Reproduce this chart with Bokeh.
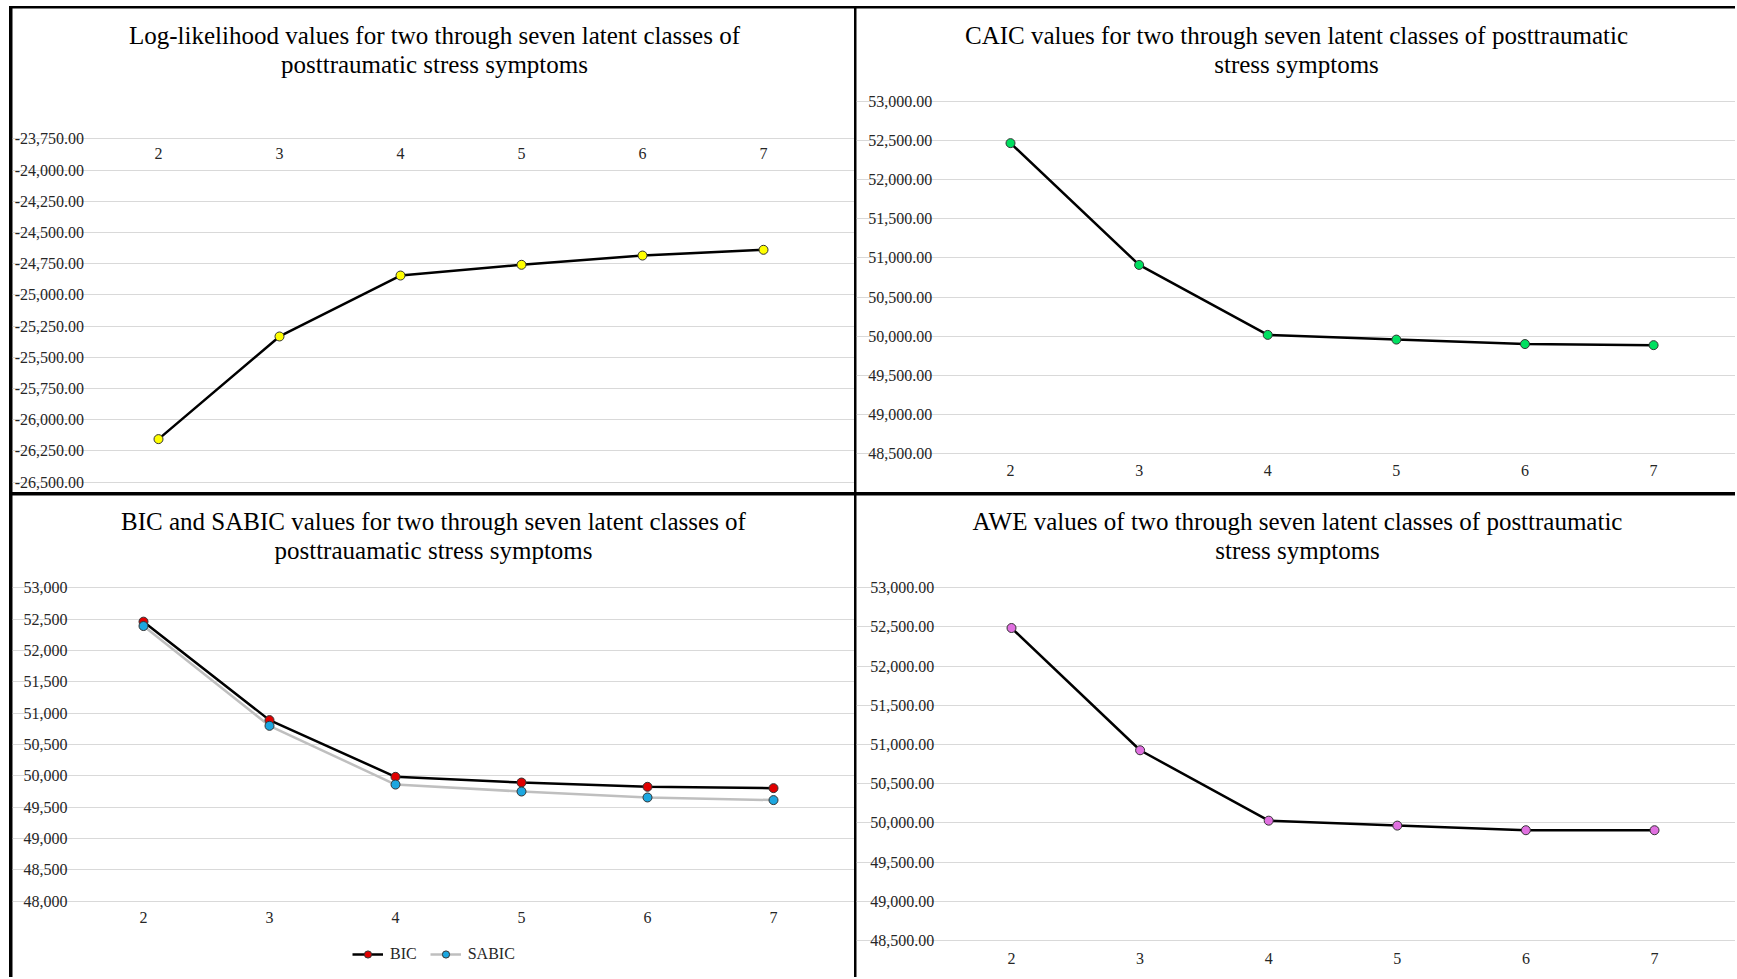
from bokeh.plotting import figure
from bokeh.layouts import row, column
from bokeh.models import (Range1d, FixedTicker, NumeralTickFormatter,
                          Label, Legend, LegendItem)
from bokeh.embed import file_html
from bokeh.resources import INLINE

# ---------------- data ----------------
classes = [2, 3, 4, 5, 6, 7]
loglik = [-26155, -25333, -24845, -24759, -24685, -24639]
caic = [52466, 50911, 50018, 49958, 49901, 49887]
bic = [52460, 50889, 49984, 49893, 49825, 49804]
sabic = [52390, 50798, 49861, 49750, 49655, 49613]
awe = [52487, 50927, 50029, 49966, 49907, 49907]

ll_ticks = [-26500, -26250, -26000, -25750, -25500, -25250, -25000,
            -24750, -24500, -24250, -24000, -23750]
caic_ticks = [48500, 49000, 49500, 50000, 50500, 51000, 51500, 52000, 52500, 53000]
bic_ticks = [48000, 48500, 49000, 49500, 50000, 50500, 51000, 51500, 52000, 52500, 53000]
awe_ticks = [48500, 49000, 49500, 50000, 50500, 51000, 51500, 52000, 52500, 53000]

title_ll = ["Log-likelihood values for two through seven latent classes of",
            "posttraumatic stress symptoms"]
title_caic = ["CAIC values for two through seven latent classes of posttraumatic",
              "stress symptoms"]
title_bic = ["BIC and SABIC values for two through seven latent classes of",
             "posttrauamatic stress symptoms"]
title_awe = ["AWE values of two through seven latent classes of posttraumatic",
             "stress symptoms"]

FONT = "Liberation Serif"
TICK_COLOR = "#262626"
GRID = "#D9D9D9"


def panel(w, h, box, ticks, fmt, xaxis_at, ystd, xstd):
    """box = (left, right, top, bottom) pixel edges of the plot area inside the canvas"""
    left, right, top, bottom = box
    xlo, xhi = classes[0] - 0.5, classes[-1] + 0.5
    ylo, yhi = ticks[0], ticks[-1]
    xppu = (right - left) / (xhi - xlo)
    yppu = (bottom - top) / (yhi - ylo)
    xr = Range1d(xlo - left / xppu, xhi + (w - right) / xppu)
    yr = Range1d(ylo - (h - bottom) / yppu, yhi + top / yppu)
    p = figure(width=w, height=h, x_range=xr, y_range=yr,
               output_backend="svg", toolbar_location=None, min_border=0)
    p.outline_line_color = None
    p.background_fill_color = "white"
    p.border_fill_color = "white"
    p.xgrid.visible = False
    p.ygrid.ticker = FixedTicker(ticks=ticks)
    p.ygrid.bounds = (xlo, xhi)
    p.ygrid.grid_line_color = GRID
    p.ygrid.grid_line_width = 1
    p.yaxis.ticker = FixedTicker(ticks=ticks)
    p.yaxis.formatter = NumeralTickFormatter(format=fmt)
    p.xaxis.ticker = FixedTicker(ticks=classes)
    p.yaxis.fixed_location = xlo
    p.xaxis.fixed_location = xaxis_at
    for ax in (p.xaxis[0], p.yaxis[0]):
        ax.axis_line_color = None
        ax.major_tick_line_color = None
        ax.minor_tick_line_color = None
        ax.major_tick_out = 0
        ax.major_tick_in = 0
        ax.major_label_text_font = FONT
        ax.major_label_text_font_size = "16px"
        ax.major_label_text_color = TICK_COLOR
    p.yaxis.major_label_standoff = ystd
    p.xaxis.major_label_standoff = xstd
    return p


def add_title(p, lines, cx, h, b1, b2):
    for t, b in zip(lines, (b1, b2)):
        p.add_layout(Label(x=cx, y=h - b, x_units="screen", y_units="screen", text=t,
                           text_align="center", text_baseline="alphabetic",
                           text_font=FONT, text_font_size="25px", text_color="black"))


W1, W2, H1, H2 = 842, 879, 484, 482

# ---- panel 1: log-likelihood ----
p1 = panel(W1, H1, (85.5, 811.5, 130.3, 473.7), ll_ticks, "0,0.00", ll_ticks[-1], 14, 9)
p1.line(classes, loglik, line_color="black", line_width=2.5)
p1.scatter(classes, loglik, size=9, fill_color="#FFFF00", line_color="#333333", line_width=1)
add_title(p1, title_ll, 422, H1, 27, 56)

# ---- panel 2: CAIC ----
p2 = panel(W2, H1, (89.7, 861.4, 92.8, 445.3), caic_ticks, "0,0.00", caic_ticks[0], 14, 11)
p2.line(classes, caic, line_color="black", line_width=2.5)
p2.scatter(classes, caic, size=9, fill_color="#00E060", line_color="#333333", line_width=1)
add_title(p2, title_caic, 440, H1, 27, 56)

# ---- panel 3: BIC & SABIC ----
p3 = panel(W1, H2, (68, 824, 92.3, 405.7), bic_ticks, "0,0", bic_ticks[0], 13, 11)
r_sl = p3.line(classes, sabic, line_color="#BFBFBF", line_width=2.5)
r_bl = p3.line(classes, bic, line_color="black", line_width=2.5)
r_bs = p3.scatter(classes, bic, size=9, fill_color="#E00000", line_color="#333333", line_width=1)
r_ss = p3.scatter(classes, sabic, size=9, fill_color="#1CA7E0", line_color="#333333", line_width=1)
legend = Legend(items=[LegendItem(label="BIC", renderers=[r_bl, r_bs]),
                       LegendItem(label="SABIC", renderers=[r_sl, r_ss])],
                orientation="horizontal", location=(340, 14),
                glyph_width=31, glyph_height=18, label_standoff=7, spacing=13,
                padding=0, margin=0, border_line_color=None,
                background_fill_alpha=0,
                label_text_font=FONT, label_text_font_size="16px",
                label_text_color=TICK_COLOR)
p3.add_layout(legend, "center")
add_title(p3, title_bic, 421, H2, 26, 55)

# ---- panel 4: AWE ----
p4 = panel(W2, H2, (90.7, 862.3, 92.3, 445.0), awe_ticks, "0,0.00", awe_ticks[0], 13, 12)
p4.line(classes, awe, line_color="black", line_width=2.5)
p4.scatter(classes, awe, size=9, fill_color="#E070E0", line_color="#333333", line_width=1)
add_title(p4, title_awe, 441, H2, 26, 55)

top = row(p1, p2, spacing=2)
bottom = row(p3, p4, spacing=2)
layout = column(top, bottom, spacing=3,
                styles={"background-color": "black", "padding-top": "2px",
                        "padding-left": "3px", "margin-top": "6px", "margin-left": "9px"})

open("out.html", "w").write(file_html(layout, INLINE))
